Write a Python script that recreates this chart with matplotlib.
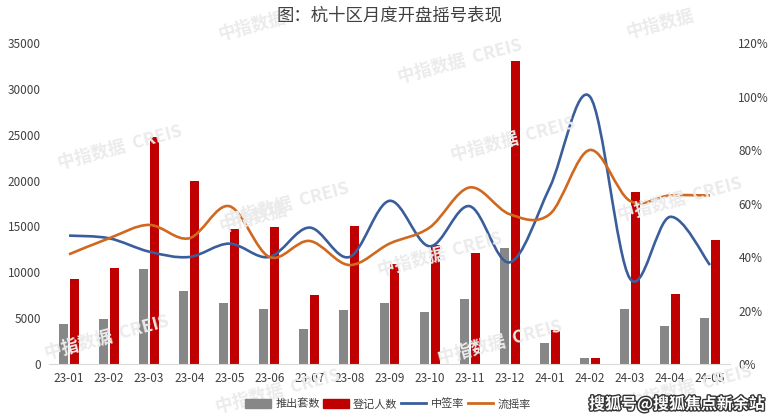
import numpy as np
import matplotlib
matplotlib.use("Agg")
import matplotlib.pyplot as plt
from matplotlib.path import Path
from matplotlib.patches import PathPatch, Patch
from matplotlib.lines import Line2D
import matplotlib.patheffects as pe

plt.rcParams['font.family'] = ['Noto Sans CJK SC', 'DejaVu Sans']

months = ["23-01", "23-02", "23-03", "23-04", "23-05", "23-06", "23-07", "23-08", "23-09",
          "23-10", "23-11", "23-12", "24-01", "24-02", "24-03", "24-04", "24-05"]
supply = [4400, 4900, 10400, 8000, 6600, 6000, 3800, 5900, 6700,
          5700, 7100, 12600, 2300, 600, 6000, 4100, 5000]
registered = [9300, 10500, 24800, 20000, 14700, 14900, 7500, 15000, 10900,
              13000, 12100, 33000, 3700, 600, 18800, 7600, 13500]
win_rate = [48, 47, 42, 40, 45, 40, 51, 40, 61, 44, 59, 38, 66, 100, 32, 55, 37]
fail_rate = [41, 47, 52, 47, 59, 40, 46, 37, 45, 51, 66, 56, 56, 80, 61, 63, 63]

GRAY = "#878787"
RED = "#C00000"
BLUE = "#3A5E9C"
ORANGE = "#D0691F"
TXT = "#404040"


def smooth_path(xs, ys):
    # excel-like smoothed line: bezier segments through every point
    xs = np.asarray(xs, float)
    ys = np.asarray(ys, float)
    n = len(xs)
    verts = [(xs[0], ys[0])]
    codes = [Path.MOVETO]
    for i in range(n - 1):
        p0 = np.array([xs[max(i - 1, 0)], ys[max(i - 1, 0)]])
        p1 = np.array([xs[i], ys[i]])
        p2 = np.array([xs[i + 1], ys[i + 1]])
        p3 = np.array([xs[min(i + 2, n - 1)], ys[min(i + 2, n - 1)]])
        c1 = p1 + (p2 - p0) / 6
        c2 = p2 - (p3 - p1) / 6
        verts += [tuple(c1), tuple(c2), tuple(p2)]
        codes += [Path.CURVE4] * 3
    return Path(verts, codes)


fig = plt.figure(figsize=(7.78, 4.2), dpi=100)
ax = fig.add_axes([49 / 778, 1 - 364 / 420, 681 / 778, 321 / 420])
ax.set_facecolor("none")

# watermarks
marks = [(120, 148, "中指数据  CREIS"), (287, 205, "中指数据  CREIS"), (460, 62, "中指数据  CREIS"),
         (513, 140, "中指数据  CREIS"), (660, 24, "中指数据"), (680, 200, "中指数据  CREIS"),
         (107, 338, "中指数据  CREIS"), (278, 392, "中指数据  CREIS"), (440, 255, "中指数据  CREIS"),
         (500, 343, "中指数据  CREIS"), (690, 388, "中指数据  CREIS"), (252, 26, "中指数据"),
         (253, 218, "中指数据")]
for mx, my, mt in marks:
    fig.text(mx / 778, 1 - my / 420, mt, fontsize=12.5, fontweight="bold",
             color="#ebebeb", rotation=15, ha="center", va="center", zorder=0)

x = np.arange(len(months))
w = 0.225
off = 0.137
ax.bar(x - off, supply, width=w, color=GRAY, zorder=2)
ax.bar(x + off, registered, width=w, color=RED, zorder=2)

ax.set_xlim(-0.5, len(months) - 0.5)
ax.set_ylim(0, 35000)
ax.set_yticks(range(0, 35001, 5000))
ax.set_xticks(x)
ax.set_xticklabels(months)
for s in ["top", "right", "left"]:
    ax.spines[s].set_visible(False)
ax.spines["bottom"].set_color("#d9d9d9")
ax.tick_params(axis="both", length=0, labelsize=8.5, labelcolor=TXT)
ax.tick_params(axis="y", pad=6)
ax.tick_params(axis="x", pad=6)

ax2 = ax.twinx()
ax2.set_ylim(0, 120)
ax2.set_yticks(range(0, 121, 20))
ax2.set_yticklabels([f"{v}%" for v in range(0, 121, 20)])
for s in ["top", "right", "left", "bottom"]:
    ax2.spines[s].set_visible(False)
ax2.tick_params(axis="y", length=0, labelsize=8.5, labelcolor=TXT, pad=6)

ax2.add_patch(PathPatch(smooth_path(x, win_rate), fill=False, edgecolor=BLUE, lw=1.9, zorder=3))
ax2.add_patch(PathPatch(smooth_path(x, fail_rate), fill=False, edgecolor=ORANGE, lw=1.9, zorder=4))

fig.text(0.5, 1 - 16 / 420, "图：杭十区月度开盘摇号表现", ha="center", va="center",
         fontsize=12.5, color=TXT)

handles = [Patch(color=GRAY), Patch(color=RED),
           Line2D([], [], color=BLUE, lw=2), Line2D([], [], color=ORANGE, lw=2)]
fig.legend(handles, ["推出套数", "登记人数", "中签率", "流摇率"], loc="center",
           bbox_to_anchor=(388 / 778, 1 - 404 / 420), ncol=4, frameon=False,
           fontsize=8, handlelength=2.3, handleheight=0.8, handletextpad=0.4,
           columnspacing=0.3, labelcolor=TXT)

fig.text(765 / 778, 1 - 404 / 420, "搜狐号@搜狐焦点新余站", ha="right", va="center",
         fontsize=11.5, color="white", fontweight="bold",
         path_effects=[pe.withStroke(linewidth=2, foreground="#333333")])

fig.savefig("out.png", dpi=100)
plt.close(fig)
